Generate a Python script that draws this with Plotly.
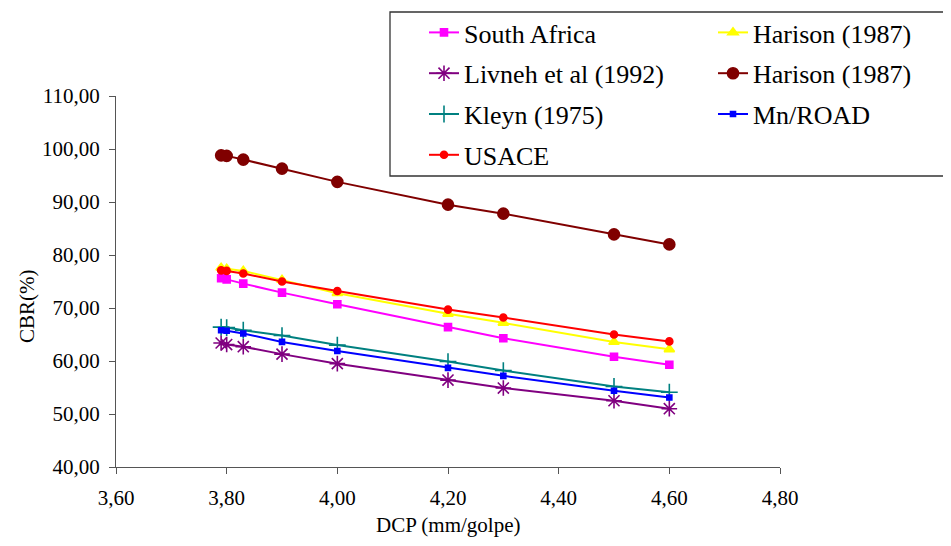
import plotly.graph_objects as go

# ---------------------------------------------------------------
# data
# ---------------------------------------------------------------
dcp = [3.79, 3.80, 3.83, 3.90, 4.00, 4.20, 4.30, 4.50, 4.60]

south_africa = [75.6, 75.4, 74.6, 72.9, 70.7, 66.4, 64.3, 60.8, 59.3]
harison_a = [77.6, 77.4, 77.0, 75.3, 72.8, 68.9, 67.2, 63.6, 62.2]
livneh = [63.4, 63.1, 62.7, 61.3, 59.5, 56.4, 54.9, 52.5, 51.0]
harison_b = [98.8, 98.7, 98.0, 96.3, 93.8, 89.5, 87.8, 83.9, 82.0]
kleyn = [66.4, 66.3, 65.8, 64.8, 63.0, 59.9, 58.2, 55.2, 54.1]
mnroad = [65.8, 65.7, 65.2, 63.6, 61.9, 58.7, 57.2, 54.4, 53.1]
usace = [77.1, 77.0, 76.5, 75.0, 73.2, 69.7, 68.2, 65.0, 63.7]

names = ['South Africa', 'Harison (1987)', 'Livneh et al (1992)', 'Harison (1987)',
         'Kleyn (1975)', 'Mn/ROAD', 'USACE']

FONT = 'Liberation Serif'

# (values, colour, symbol, size, legend)
series = [
    (south_africa, '#FF00FF', 'square', 7, 'legend'),
    (harison_a, '#FFFF00', 'triangle-up', 9, 'legend2'),
    (livneh, '#800080', 'asterisk-open', 13, 'legend'),
    (harison_b, '#800000', 'circle', 11, 'legend2'),
    (kleyn, '#008080', 'cross-thin-open', 12, 'legend'),
    (mnroad, '#0000FF', 'square', 5, 'legend2'),
    (usace, '#FF0000', 'circle', 7, 'legend'),
]

fig = go.Figure()
for i, (vals, col, sym, size, leg) in enumerate(series):
    fig.add_trace(go.Scatter(
        x=dcp, y=vals, name=names[i], mode='lines+markers',
        line=dict(color=col, width=2),
        marker=dict(symbol=sym, size=size, color=col, line=dict(color=col, width=1.6)),
        legend=leg, legendgroup='g%d' % i,
    ))

# plot area (window px): x 116..780, y 96..467 ; page body adds an 8 px offset
def px_x(p):
    return (p - 116) / 664.0

def px_y(p):
    return (467 - p) / 371.0

legend_style = dict(
    font=dict(family=FONT, size=26, color='black'),
    bgcolor='rgba(0,0,0,0)', borderwidth=0,
    xanchor='left', yanchor='top', tracegroupgap=4,
    orientation='v',
)

fig.update_layout(
    width=943, height=538,
    margin=dict(l=108, r=171, t=88, b=79, autoexpand=False),
    paper_bgcolor='white', plot_bgcolor='white',
    separators=',.',
    font=dict(family=FONT, size=21, color='black'),
    showlegend=True,
    legend=dict(x=px_x(424), y=px_y(9), **legend_style),
    legend2=dict(x=px_x(713), y=px_y(9), **legend_style),
    xaxis=dict(
        range=[3.6, 4.8], dtick=0.2, tick0=3.6, tickformat='.2f',
        showgrid=False, zeroline=False, showline=True, linecolor='#555', linewidth=1,
        ticks='outside', ticklen=6, tickcolor='#555', ticklabelstandoff=6,
    ),
    yaxis=dict(
        range=[40, 110], dtick=10, tick0=40, tickformat='.2f',
        showgrid=False, zeroline=False, showline=True, linecolor='#555', linewidth=1,
        ticks='outside', ticklen=6, tickcolor='#555', ticklabelstandoff=5,
    ),
    shapes=[dict(
        type='rect', xref='paper', yref='paper',
        x0=px_x(390), x1=px_x(990), y0=px_y(176), y1=px_y(12),
        line=dict(color='#333', width=1.3), fillcolor='rgba(0,0,0,0)', layer='below',
    )],
    annotations=[
        dict(text='DCP (mm/golpe)', xref='paper', yref='paper', x=0.5, y=px_y(525),
             xanchor='center', yanchor='middle', showarrow=False),
        dict(text='CBR(%)', xref='paper', yref='paper', x=px_x(27), y=px_y(306),
             xanchor='center', yanchor='middle', textangle=-90, showarrow=False),
    ],
)

fig.write_html('out.html')
